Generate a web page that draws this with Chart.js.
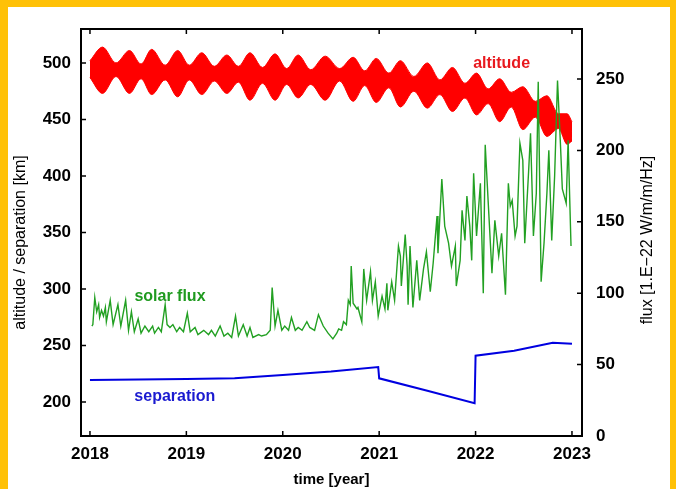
<!DOCTYPE html>
<html lang="en">
<head>
    <meta charset="UTF-8">
    <title>altitude / separation / solar flux</title>
    <style>
        body {
            margin: 0;
            background-color: white;
        }
        .frame {
            position: absolute;
            left: 0;
            top: 0;
            width: 676px;
            height: 489px;
            box-sizing: border-box;
            border-top: 7px solid #ffc107;
            border-left: 8px solid #ffc107;
            border-right: 6px solid #ffc107;
            background-color: white;
        }
        canvas {
            position: absolute;
            left: 0;
            top: 0;
        }
    </style>
</head>
<body>
    <div class="frame"></div>
    <canvas id="orbitChart" width="676" height="489"></canvas>

    <script src="https://cdn.jsdelivr.net/npm/chart.js"></script>
    <script>
        // tick labels
        const yearTicks = [2018, 2019, 2020, 2021, 2022, 2023];
        const kmTicks = [200, 250, 300, 350, 400, 450, 500];
        const fluxTicks = [0, 50, 100, 150, 200, 250];

        // altitude band (upper / lower envelope, km), read at lobe peaks and pinch points
        const altT = [2018.00, 2018.13, 2018.27, 2018.41, 2018.53, 2018.64, 2018.78, 2018.91, 2019.03, 2019.16,
                      2019.29, 2019.42, 2019.54, 2019.66, 2019.79, 2019.92, 2020.04, 2020.16, 2020.29, 2020.44,
                      2020.59, 2020.73, 2020.85, 2020.97, 2021.10, 2021.22, 2021.36, 2021.50, 2021.63, 2021.76,
                      2021.89, 2022.01, 2022.13, 2022.25, 2022.37, 2022.49, 2022.62, 2022.74, 2022.86, 2022.95, 2023.00];
        const altHi = [502, 514, 500, 511, 499, 512, 498, 511, 498, 509,
                       497, 507, 497, 509, 496, 508, 495, 507, 494, 506,
                       495, 505, 493, 504, 491, 502, 488, 500, 485, 496,
                       482, 491, 477, 486, 474, 479, 466, 471, 455, 455, 448];
        const altLo = [487, 473, 488, 473, 486, 472, 485, 470, 485, 472,
                       484, 473, 483, 467, 482, 467, 481, 469, 481, 467,
                       484, 466, 480, 465, 478, 461, 475, 460, 472, 457,
                       469, 454, 464, 448, 461, 441, 452, 435, 442, 428, 431];

        // solar flux (1.E-22 W/m/m/Hz)
        const fluxT = [2018.02, 2018.03, 2018.05, 2018.07, 2018.09, 2018.10, 2018.12, 2018.14, 2018.16, 2018.17,
                       2018.21, 2018.24, 2018.29, 2018.32, 2018.37, 2018.40, 2018.43, 2018.46, 2018.50, 2018.53,
                       2018.57, 2018.61, 2018.65, 2018.67, 2018.71, 2018.74, 2018.78, 2018.80, 2018.83, 2018.86,
                       2018.90, 2018.93, 2018.97, 2019.01, 2019.04, 2019.09, 2019.12, 2019.18, 2019.23, 2019.26,
                       2019.30, 2019.35, 2019.39, 2019.43, 2019.47, 2019.51, 2019.54, 2019.59, 2019.63, 2019.66,
                       2019.69, 2019.75, 2019.78, 2019.83, 2019.87, 2019.89, 2019.92, 2019.95, 2019.99, 2020.02,
                       2020.06, 2020.09, 2020.13, 2020.16, 2020.20, 2020.25, 2020.28, 2020.33, 2020.37, 2020.42,
                       2020.47, 2020.52, 2020.56, 2020.58, 2020.61, 2020.63, 2020.66, 2020.68, 2020.70, 2020.71,
                       2020.73, 2020.77, 2020.78, 2020.82, 2020.84, 2020.87, 2020.91, 2020.93, 2020.96, 2020.99,
                       2021.03, 2021.06, 2021.08, 2021.09, 2021.13, 2021.16, 2021.20, 2021.22, 2021.23, 2021.27,
                       2021.29, 2021.30, 2021.32, 2021.35, 2021.39, 2021.42, 2021.46, 2021.49, 2021.53, 2021.56,
                       2021.60, 2021.61, 2021.65, 2021.68, 2021.72, 2021.75, 2021.79, 2021.80, 2021.84, 2021.86,
                       2021.89, 2021.91, 2021.94, 2021.96, 2021.98, 2022.01, 2022.05, 2022.08, 2022.10, 2022.13,
                       2022.17, 2022.20, 2022.24, 2022.27, 2022.31, 2022.34, 2022.36, 2022.38, 2022.41, 2022.43,
                       2022.46, 2022.49, 2022.51, 2022.55, 2022.57, 2022.60, 2022.63, 2022.65, 2022.68, 2022.71,
                       2022.74, 2022.76, 2022.79, 2022.82, 2022.85, 2022.88, 2022.90, 2022.94, 2022.96, 2022.99];
        const fluxV = [77, 78, 97, 87, 92, 83, 88, 84, 90, 80,
                       95, 78, 92, 77, 95, 74, 87, 73, 82, 72,
                       77, 73, 77, 72, 76, 73, 92, 78, 76, 78,
                       73, 76, 73, 86, 73, 76, 71, 74, 71, 74,
                       70, 77, 70, 72, 69, 84, 70, 78, 70, 76,
                       69, 71, 70, 71, 74, 104, 77, 88, 74, 77,
                       74, 83, 74, 76, 74, 80, 76, 74, 85, 77,
                       72, 68, 72, 75, 74, 80, 78, 95, 92, 119,
                       93, 89, 90, 80, 117, 95, 115, 95, 108, 84,
                       98, 89, 107, 88, 108, 95, 133, 126, 105, 141,
                       119, 92, 133, 90, 123, 95, 117, 129, 101, 121,
                       154, 128, 180, 147, 135, 119, 133, 105, 123, 158,
                       137, 168, 147, 123, 184, 140, 177, 100, 204, 165,
                       114, 151, 126, 142, 99, 177, 161, 165, 140, 147,
                       205, 193, 135, 185, 212, 140, 170, 248, 108, 135,
                       170, 200, 137, 182, 249, 205, 173, 163, 207, 133];

        // separation (km)
        const sepT = [2018.00, 2018.50, 2019.00, 2019.50, 2020.00, 2020.50, 2020.99, 2021.00, 2021.50, 2021.99, 2022.00, 2022.40, 2022.80, 2023.00];
        const sepV = [219.5, 220, 220.5, 221, 224, 227, 231, 221, 210, 199, 241, 245.5, 252.5, 251.5];

        const FONT = "'Liberation Sans', Arial, sans-serif";

        function points(xs, ys) {
            return xs.map((x, i) => ({ x: x, y: ys[i] }));
        }

        // frame, inward tick marks, titles and series labels
        const decorations = {
            id: 'decorations',
            afterDraw(chart) {
                const ctx = chart.ctx;
                const a = chart.chartArea;
                const sx = chart.scales.x, sy = chart.scales.y, sy2 = chart.scales.y2;
                ctx.save();
                ctx.strokeStyle = '#000';
                ctx.lineWidth = 1.5;
                ctx.beginPath();
                yearTicks.forEach(v => {
                    const px = sx.getPixelForValue(v);
                    ctx.moveTo(px, a.bottom); ctx.lineTo(px, a.bottom - 5);
                    ctx.moveTo(px, a.top); ctx.lineTo(px, a.top + 5);
                });
                kmTicks.forEach(v => {
                    const py = sy.getPixelForValue(v);
                    ctx.moveTo(a.left, py); ctx.lineTo(a.left + 5, py);
                });
                fluxTicks.forEach(v => {
                    const py = sy2.getPixelForValue(v);
                    ctx.moveTo(a.right, py); ctx.lineTo(a.right - 5, py);
                });
                ctx.stroke();
                ctx.lineWidth = 2;
                ctx.strokeRect(a.left, a.top, a.right - a.left, a.bottom - a.top);

                ctx.fillStyle = '#000';
                ctx.textAlign = 'center';
                ctx.textBaseline = 'middle';
                ctx.font = 'bold 15px ' + FONT;
                ctx.fillText('time [year]', (a.left + a.right) / 2, 480);

                ctx.font = '16px ' + FONT;
                ctx.save();
                ctx.translate(21, (a.top + a.bottom) / 2 + 10);
                ctx.rotate(-Math.PI / 2);
                ctx.fillText('altitude / separation [km]', 0, 0);
                ctx.restore();
                ctx.save();
                ctx.translate(648, 240);
                ctx.rotate(-Math.PI / 2);
                ctx.fillText('flux [1.E\u221222 W/m/m/Hz]', 0, 0);
                ctx.restore();

                ctx.font = 'bold 16px ' + FONT;
                ctx.fillStyle = '#e8191e';
                ctx.fillText('altitude', sx.getPixelForValue(2022.27), sy.getPixelForValue(499));
                ctx.fillStyle = '#1f9a1f';
                ctx.fillText('solar flux', sx.getPixelForValue(2018.83), sy.getPixelForValue(293));
                ctx.fillStyle = '#1a1ad0';
                ctx.fillText('separation', sx.getPixelForValue(2018.88), sy.getPixelForValue(205));
                ctx.restore();
            }
        };

        const tickFont = { family: FONT, size: 17, weight: 'bold' };

        new Chart(document.getElementById('orbitChart'), {
            type: 'line',
            data: {
                datasets: [
                    {
                        data: points(altT, altHi), yAxisID: 'y',
                        borderColor: '#ff0000', backgroundColor: '#ff0000', borderWidth: 1,
                        pointRadius: 0, fill: '+1', cubicInterpolationMode: 'monotone', order: 2
                    },
                    {
                        data: points(altT, altLo), yAxisID: 'y',
                        borderColor: '#ff0000', borderWidth: 1,
                        pointRadius: 0, fill: false, cubicInterpolationMode: 'monotone', order: 3
                    },
                    {
                        data: points(fluxT, fluxV), yAxisID: 'y2',
                        borderColor: '#22a022', borderWidth: 1.4,
                        pointRadius: 0, fill: false, order: 0
                    },
                    {
                        data: points(sepT, sepV), yAxisID: 'y',
                        borderColor: '#0000e0', borderWidth: 2,
                        pointRadius: 0, fill: false, order: 1
                    }
                ]
            },
            options: {
                responsive: false,
                animation: false,
                devicePixelRatio: 1,
                layout: { padding: { top: 29, left: 0, right: 0, bottom: 0 } },
                plugins: {
                    legend: { display: false },
                    tooltip: { enabled: false }
                },
                scales: {
                    x: {
                        type: 'linear', min: 2017.907, max: 2023.104,
                        afterBuildTicks: s => { s.ticks = yearTicks.map(v => ({ value: v })); },
                        afterFit: s => { s.height = 53; },
                        ticks: { callback: v => String(v), font: tickFont, color: '#000', padding: 8, maxRotation: 0, autoSkip: false },
                        grid: { display: false, drawTicks: false },
                        border: { display: false }
                    },
                    y: {
                        position: 'left', min: 170, max: 530,
                        afterBuildTicks: s => { s.ticks = kmTicks.map(v => ({ value: v })); },
                        afterFit: s => { s.width = 81; },
                        ticks: { font: tickFont, color: '#000', padding: 10 },
                        grid: { display: false, drawTicks: false },
                        border: { display: false }
                    },
                    y2: {
                        position: 'right', min: 0, max: 285,
                        afterBuildTicks: s => { s.ticks = fluxTicks.map(v => ({ value: v })); },
                        afterFit: s => { s.width = 94; },
                        ticks: { font: tickFont, color: '#000', padding: 14 },
                        grid: { display: false, drawTicks: false },
                        border: { display: false }
                    }
                }
            },
            plugins: [decorations]
        });
    </script>
</body>
</html>
